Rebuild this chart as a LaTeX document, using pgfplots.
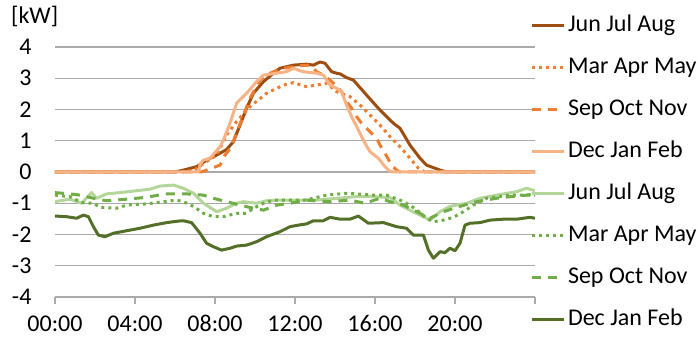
\documentclass[border=0pt]{standalone}
\usepackage{fontspec}
\setmainfont{Carlito}
\usepackage{pgfplots}
\pgfplotsset{compat=1.18}
\definecolor{cJJA}{RGB}{158,78,16}
\definecolor{cOr}{RGB}{237,125,49}
\definecolor{cDJF}{RGB}{246,180,134}
\definecolor{gJJA}{RGB}{180,214,155}
\definecolor{gMid}{RGB}{112,173,71}
\definecolor{gDJF}{RGB}{84,112,40}
\definecolor{gridc}{RGB}{170,170,170}
\begin{document}
\begin{tikzpicture}[font=\fontsize{24}{28}\selectfont]
\begin{axis}[
  at={(0,0)}, anchor=south west,
  width=480pt, height=250pt, scale only axis,
  xmin=0, xmax=24, ymin=-4, ymax=4,
  axis x line*=bottom, axis y line*=left,
  x axis line style={draw=gridc, line width=1.2pt, -},
  y axis line style={draw=none},
  ymajorgrids, major grid style={draw=gridc, line width=1.2pt},
  xtick={0,4,...,24}, xticklabels={00:00,04:00,08:00,12:00,16:00,20:00,{}},
  ytick={-4,-3,...,4}, yticklabels={-4,-3,-2,-1,0,1,2,3,4},
  xticklabel style={anchor=north, yshift=-8pt},
  yticklabel style={anchor=east, xshift=-13pt},
  x tick style={draw=gridc, line width=1.2pt}, y tick style={draw=none},
  major tick length=7pt, tick align=outside,
  every axis plot/.append style={line width=3pt, line join=round},
  legend cell align=left,
  legend style={draw=none, fill=none, at={(0.9896,1.129)}, anchor=north west,
    inner sep=0pt, outer sep=0pt, row sep=20pt,
    nodes={inner sep=0pt, text height=17pt, text depth=5pt},
    /tikz/every odd column/.append style={column sep=3pt}},
  legend image code/.code={\draw[#1] (0pt,0pt) -- (32pt,0pt);},
]
% PV
\addplot[cJJA] coordinates {(0,0)(6,0)(6.42,0.06)(7.08,0.17)(7.58,0.38)(8.08,0.54)(8.58,0.72)(8.92,0.97)(9.25,1.5)(9.58,2.04)(9.92,2.52)(10.42,2.89)(10.92,3.16)(11.25,3.32)(11.92,3.42)(12.58,3.45)(12.92,3.42)(13.25,3.52)(13.5,3.48)(13.83,3.21)(14.08,3.16)(14.25,3.14)(14.58,3.02)(14.92,2.94)(15.58,2.46)(16.25,1.98)(16.92,1.56)(17.25,1.4)(17.75,0.86)(18.25,0.44)(18.58,0.22)(19.25,0.06)(19.6,0)(24,0)};
\addlegendentry{Jun Jul Aug}
\addplot[cOr, dash pattern=on 3pt off 4pt, line cap=butt] coordinates {(0,0)(6.5,0)(7.0,0.08)(7.5,0.3)(8.08,0.54)(8.58,1.18)(9.08,1.61)(9.75,2.09)(10.58,2.52)(11.42,2.78)(11.92,2.86)(12.58,2.73)(13.42,2.82)(13.58,2.84)(14.08,2.57)(14.75,2.41)(15.25,2.14)(15.75,1.82)(16.25,1.5)(16.75,1.13)(17.25,0.81)(17.75,0.44)(18.17,0.12)(18.5,0)(24,0)};
\addlegendentry{Mar Apr May}
\addplot[cOr, dash pattern=on 9pt off 7pt] coordinates {(0,0)(7.33,0)(8.25,0.22)(8.5,0.54)(8.83,0.81)(9.0,1.13)(9.33,1.66)(9.75,2.36)(10.25,2.94)(10.75,3.16)(11.25,3.3)(11.75,3.35)(12.25,3.4)(12.75,3.42)(13.08,3.21)(13.42,3.1)(13.75,2.94)(14.08,2.75)(14.33,2.57)(14.58,2.25)(14.83,2.04)(15.08,1.77)(15.33,1.56)(15.67,1.34)(16.08,1.08)(16.25,0.86)(16.5,0.6)(16.83,0.22)(17.08,0.06)(17.25,0)(24,0)};
\addlegendentry{Sep Oct Nov}
\addplot[cDJF] coordinates {(0,0)(7.18,0)(7.25,0.25)(7.42,0.38)(7.75,0.44)(8.25,0.81)(8.42,1.02)(8.75,1.56)(9.08,2.2)(9.58,2.52)(10.08,2.89)(10.42,3.1)(11.08,3.16)(11.58,3.21)(11.92,3.32)(12.17,3.26)(12.42,3.21)(13.08,3.16)(13.42,3.1)(13.75,2.78)(14.08,2.68)(14.33,2.57)(14.58,2.14)(14.83,1.77)(15.17,1.34)(15.5,0.92)(15.75,0.65)(16.17,0.44)(16.5,0.17)(16.75,0.02)(17,0)(24,0)};
\addlegendentry{Dec Jan Feb}
% Load
\addplot[gJJA] coordinates {(0,-0.95)(0.75,-0.87)(1.33,-1.0)(1.83,-0.66)(2.08,-0.84)(2.58,-0.7)(3.25,-0.66)(3.92,-0.61)(4.75,-0.55)(5.25,-0.45)(5.92,-0.42)(6.42,-0.52)(6.92,-0.68)(7.42,-1.0)(8.08,-1.27)(8.58,-1.16)(9.08,-1.0)(9.42,-0.95)(10.08,-1.0)(10.58,-0.92)(11.25,-0.9)(12.08,-0.9)(13,-0.9)(14,-0.85)(15,-0.79)(16,-0.79)(16.75,-0.82)(17.25,-1.06)(17.75,-1.22)(18.25,-1.38)(18.75,-1.54)(19.25,-1.27)(19.75,-1.1)(20.58,-1.0)(21.25,-0.84)(22.08,-0.74)(23.08,-0.63)(23.58,-0.52)(24,-0.6)};
\addlegendentry{Jun Jul Aug}
\addplot[gMid, dash pattern=on 3pt off 4pt, line cap=butt] coordinates {(0,-0.74)(0.75,-0.79)(1.33,-0.98)(1.92,-1.0)(2.25,-1.13)(3.08,-1.16)(3.58,-1.06)(4.58,-1.02)(5.42,-0.95)(6.08,-0.9)(6.42,-0.95)(6.92,-1.1)(7.42,-1.32)(7.92,-1.43)(8.42,-1.43)(9.08,-1.32)(9.58,-1.32)(9.92,-1.16)(10.42,-1.0)(10.92,-0.9)(12.5,-0.9)(13.58,-0.74)(14.58,-0.68)(15.92,-0.74)(16.58,-0.74)(17.25,-0.9)(17.75,-1.06)(18.25,-1.3)(18.58,-1.48)(18.92,-1.59)(19.42,-1.54)(19.92,-1.45)(20.42,-1.27)(20.92,-1.06)(21.58,-0.84)(22.75,-0.74)(24,-0.74)};
\addlegendentry{Mar Apr May}
\addplot[gMid, dash pattern=on 9pt off 7pt] coordinates {(0,-0.66)(0.75,-0.7)(1.25,-0.74)(1.92,-0.84)(2.58,-0.92)(3.58,-0.87)(4.58,-0.81)(5.5,-0.7)(6.58,-0.7)(7.42,-0.74)(7.92,-0.84)(8.58,-0.95)(9.25,-1.06)(9.92,-1.16)(10.42,-1.22)(11.08,-1.06)(11.75,-1.0)(12.58,-0.9)(13.75,-0.95)(14.75,-0.9)(15.5,-1.0)(16.25,-0.84)(16.75,-0.95)(17.42,-1.06)(17.92,-1.22)(18.08,-1.27)(18.75,-1.48)(19.42,-1.27)(20.25,-1.1)(21.08,-0.95)(22.08,-0.84)(22.75,-0.79)(23.58,-0.74)(24,-0.7)};
\addlegendentry{Sep Oct Nov}
\addplot[gDJF] coordinates {(0,-1.41)(0.58,-1.43)(1.08,-1.48)(1.42,-1.38)(1.67,-1.43)(1.92,-1.75)(2.17,-2.02)(2.5,-2.07)(2.92,-1.96)(3.58,-1.88)(4.25,-1.8)(4.92,-1.7)(5.58,-1.62)(6.17,-1.57)(6.42,-1.56)(6.83,-1.62)(7.25,-1.96)(7.58,-2.28)(7.92,-2.39)(8.33,-2.5)(8.75,-2.44)(9.08,-2.37)(9.58,-2.34)(10.08,-2.23)(10.58,-2.07)(11.25,-1.91)(11.75,-1.75)(12.17,-1.7)(12.58,-1.66)(12.92,-1.56)(13.42,-1.56)(13.75,-1.45)(14.25,-1.51)(14.75,-1.51)(15.17,-1.41)(15.67,-1.64)(16.42,-1.62)(17.08,-1.75)(17.58,-1.8)(17.92,-2.02)(18.42,-2.02)(18.67,-2.5)(18.92,-2.76)(19.25,-2.55)(19.5,-2.58)(19.75,-2.44)(20.0,-2.52)(20.25,-2.28)(20.5,-1.7)(20.75,-1.64)(21.25,-1.62)(21.75,-1.54)(22.42,-1.51)(23.08,-1.51)(23.75,-1.45)(24,-1.48)};
\addlegendentry{Dec Jan Feb}
\end{axis}
\node[anchor=base west, inner sep=0pt] at (-44pt,273pt) {[kW]};
\pgfresetboundingbox
\path (-55pt,-46pt) rectangle (644pt,297pt);
\end{tikzpicture}
\end{document}
